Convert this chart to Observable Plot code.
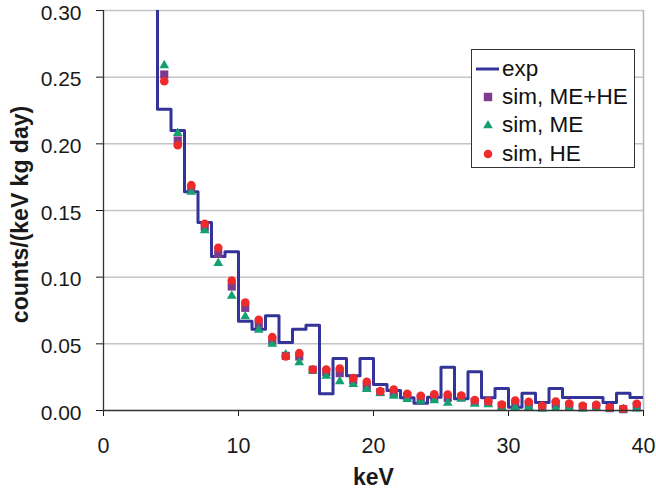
<!DOCTYPE html>
<html>
<head>
<meta charset="utf-8">
<script src="https://cdn.jsdelivr.net/npm/d3@7"></script>
<script src="https://cdn.jsdelivr.net/npm/@observablehq/plot@0.6"></script>
<style>
  html, body { margin: 0; padding: 0; background: #fff; }
  #chart { position: relative; width: 656px; height: 492px; font-family: "Liberation Sans", Arial, sans-serif; }
  #legend { position: absolute; left: 471px; top: 49px; width: 164px; height: 119px; box-sizing: border-box;
            border: 1.3px solid #333; background: #fff; }
  .item { position: absolute; left: 0; height: 28px; width: 160px; }
  .item svg { position: absolute; left: 0; top: 0; }
  .item span { position: absolute; left: 30px; top: 0; line-height: 28px; font-size: 22.5px; color: #111; white-space: nowrap; }
</style>
</head>
<body>
<div id="chart"></div>
<script>
// ---- data ----
// experimental histogram: bin start (keV) and rate (first bin is off-scale, last entry closes the 39-40 bin)
const binStartKeV = [3, 4, 5, 6, 7, 8, 9, 10, 11, 12, 13, 14, 15, 16, 17, 18, 19, 20, 21, 22, 23, 24, 25, 26, 27, 28, 29, 30, 31, 32, 33, 34, 35, 36, 37, 38, 39, 40];
const expRate = [0.40, 0.226, 0.210, 0.164, 0.141, 0.1155, 0.119, 0.067, 0.061, 0.071, 0.051, 0.061, 0.064, 0.0125, 0.039, 0.026, 0.039, 0.0195, 0.015, 0.0095, 0.0055, 0.010, 0.0325, 0.0088, 0.029, 0.0095, 0.0165, 0.0025, 0.013, 0.006, 0.0165, 0.0098, 0.0098, 0.0098, 0.006, 0.013, 0.0098, 0.0098];

// simulations at bin centres
const simKeV = [4.5, 5.5, 6.5, 7.5, 8.5, 9.5, 10.5, 11.5, 12.5, 13.5, 14.5, 15.5, 16.5, 17.5, 18.5, 19.5, 20.5, 21.5, 22.5, 23.5, 24.5, 25.5, 26.5, 27.5, 28.5, 29.5, 30.5, 31.5, 32.5, 33.5, 34.5, 35.5, 36.5, 37.5, 38.5, 39.5];
const simMEHE = [0.252, 0.2025, 0.1665, 0.1375, 0.1175, 0.093, 0.077, 0.065, 0.0525, 0.041, 0.0405, 0.0305, 0.0288, 0.028, 0.0225, 0.018, 0.0138, 0.013, 0.0108, 0.0092, 0.0098, 0.0095, 0.0098, 0.0065, 0.0058, 0.0035, 0.005, 0.0045, 0.0025, 0.0045, 0.0038, 0.0025, 0.003, 0.0018, 0.001, 0.0035];
const simME = [0.2588, 0.208, 0.164, 0.135, 0.1105, 0.086, 0.0705, 0.0605, 0.050, 0.042, 0.036, 0.030, 0.026, 0.0218, 0.0197, 0.016, 0.013, 0.011, 0.0085, 0.0072, 0.0075, 0.0056, 0.0088, 0.005, 0.0045, 0.0025, 0.0022, 0.0025, 0.0013, 0.0018, 0.002, 0.0013, 0.0018, 0.0013, 0.0008, 0.0013];
const simHE = [0.247, 0.199, 0.169, 0.140, 0.122, 0.0975, 0.081, 0.068, 0.055, 0.0405, 0.043, 0.0308, 0.0308, 0.0315, 0.0243, 0.0215, 0.0145, 0.0158, 0.0125, 0.011, 0.0122, 0.012, 0.0112, 0.0078, 0.007, 0.0044, 0.0075, 0.0065, 0.0035, 0.0068, 0.0052, 0.0035, 0.0042, 0.0023, 0.0013, 0.005];

const xTicks = [0, 10, 20, 30, 40];
const yTicks = [0, 0.05, 0.10, 0.15, 0.20, 0.25, 0.30];
const seriesNames = ["exp", "sim, ME+HE", "sim, ME", "sim, HE"];
const seriesColors = ["#333399", "#7E3A8E", "#14A070", "#EE2A2A"];
const xTitle = "keV";
const yTitle = "counts/(keV kg day)";

// ---- build ----
const expData = binStartKeV.map((k, i) => ({keV: k, rate: expRate[i]}));
const sim = arr => simKeV.map((k, i) => ({keV: k, rate: arr[i]}));
const font = '"Liberation Sans", Arial, sans-serif';
const fmtY = d3.format(".2f");

const plot = Plot.plot({
  width: 656,
  height: 492,
  marginLeft: 103,
  marginRight: 13,
  marginTop: 10,
  marginBottom: 82,
  style: {fontFamily: font, fontSize: "21.5px", color: "#1a1a1a", background: "#fff", overflow: "visible"},
  x: {domain: [0, 40], ticks: xTicks, tickSize: 6, tickPadding: 21, label: null, tickFormat: d3.format("d")},
  y: {domain: [0, 0.30], ticks: yTicks, tickSize: 7, tickPadding: 15, label: null, tickFormat: () => ""},
  marks: [
    Plot.ruleY(yTicks.slice(1), {stroke: "#c4c4cc", strokeWidth: 1.5}),
    Plot.ruleX([40], {stroke: "#b4b4bc", strokeWidth: 1.5}),
    Plot.lineY(expData, {x: "keV", y: "rate", curve: "step-after", stroke: seriesColors[0], strokeWidth: 3, clip: true}),
    Plot.dot(sim(simMEHE), {x: "keV", y: "rate", symbol: "square", fill: seriesColors[1], r: 4.6}),
    Plot.dot(sim(simME), {x: "keV", y: "rate", symbol: "triangle", fill: seriesColors[2], r: 3.6}),
    Plot.dot(sim(simHE), {x: "keV", y: "rate", symbol: "circle", fill: seriesColors[3], r: 4.3}),
    Plot.ruleY([0], {stroke: "#333", strokeWidth: 1.3}),
    Plot.ruleX([0], {stroke: "#333", strokeWidth: 1.3}),
    Plot.text(yTicks, {y: d => d, text: d => fmtY(d), frameAnchor: "left", textAnchor: "end", dx: -22, dy: 2.3, fontSize: 21, fill: "#1a1a1a"}),
    Plot.text([xTitle], {text: d => d, frameAnchor: "bottom", textAnchor: "middle", dy: 74, fontWeight: "bold", fontSize: 23, fill: "#1a1a1a"}),
    Plot.text([yTitle], {text: d => d, frameAnchor: "left", textAnchor: "middle", rotate: -90, dx: -83, dy: 4, fontWeight: "bold", fontSize: 23, fill: "#1a1a1a"})
  ]
});
document.getElementById("chart").appendChild(plot);

// ---- legend (overlay inside the plot area) ----
const legend = document.createElement("div");
legend.id = "legend";
const centers = [19, 47, 75, 104];
const symbolSvg = [
  `<svg width="30" height="28"><line x1="4" x2="27" y1="14" y2="14" stroke="${seriesColors[0]}" stroke-width="3"/></svg>`,
  `<svg width="30" height="28"><rect x="11.8" y="9.8" width="8.4" height="8.4" fill="${seriesColors[1]}"/></svg>`,
  `<svg width="30" height="28"><path d="${d3.symbol(d3.symbolTriangle, Math.PI * 3.6 * 3.6)()}" transform="translate(16,14.5)" fill="${seriesColors[2]}"/></svg>`,
  `<svg width="30" height="28"><circle cx="16" cy="14" r="4.3" fill="${seriesColors[3]}"/></svg>`
];
seriesNames.forEach((name, i) => {
  const it = document.createElement("div");
  it.className = "item";
  it.style.top = (centers[i] - 14) + "px";
  it.innerHTML = symbolSvg[i] + `<span>${name}</span>`;
  legend.appendChild(it);
});
document.getElementById("chart").appendChild(legend);
</script>
</body>
</html>
